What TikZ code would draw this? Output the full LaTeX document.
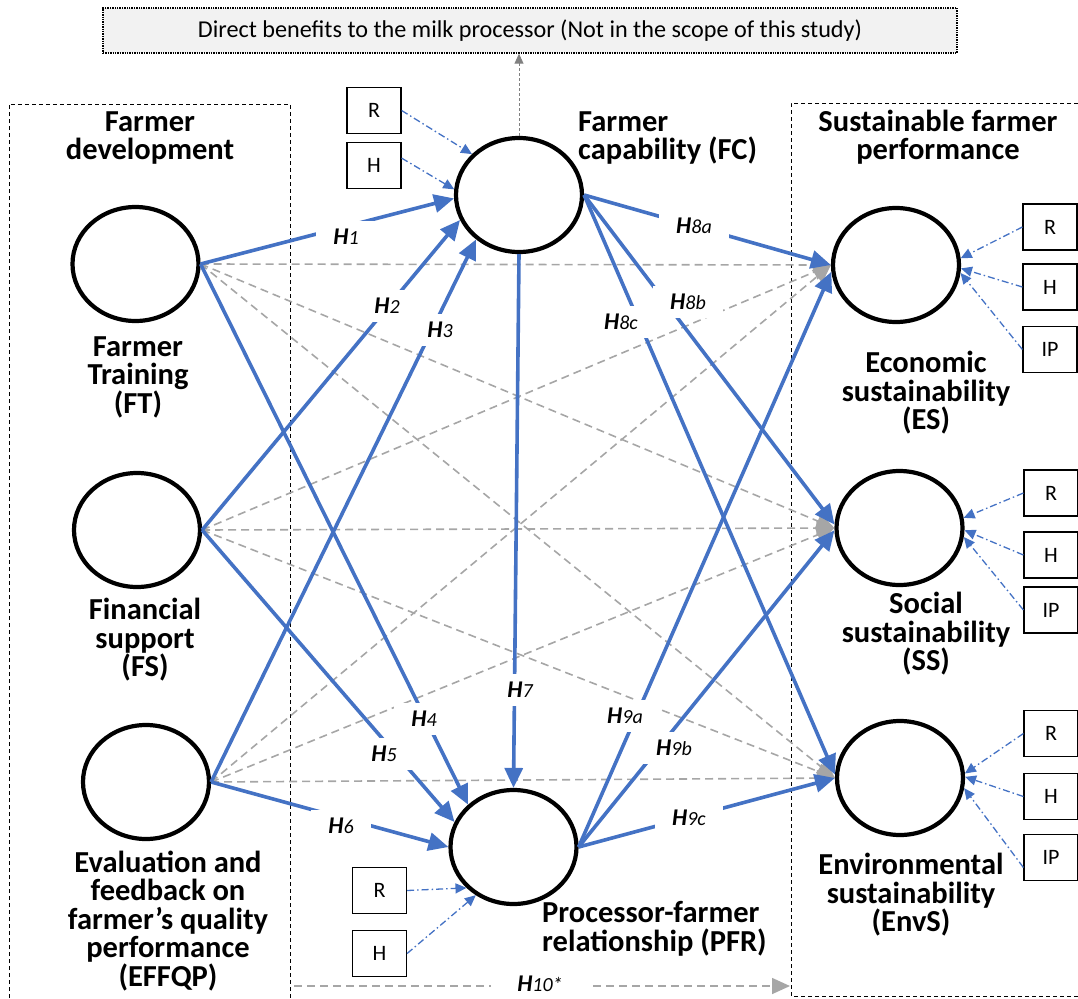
\documentclass[tikz,border=0pt]{standalone}
\usepackage{fontspec}
\setmainfont{Carlito}
\usetikzlibrary{shapes.geometric,arrows.meta}
\definecolor{lnkblue}{HTML}{4472C4}
\definecolor{dashgray}{HTML}{A6A6A6}
\definecolor{boxfill}{HTML}{F2F2F2}
\definecolor{upgray}{HTML}{808080}
% hypothesis label: bold italic H followed by an italic index
\newcommand{\hlabel}[1]{{\fontsize{24}{24}\selectfont\bfseries\itshape H}{\fontsize{20}{20}\selectfont\itshape #1}}

\begin{document}
\begin{tikzpicture}[x=1pt,y=-1pt,
  construct/.style={ellipse, draw, line width=4.2pt, minimum width=126pt, minimum height=114pt, inner sep=0pt},
  heading/.style={font=\fontsize{30.5}{28.5}\selectfont\bfseries, align=center, inner sep=0pt},
  indic/.style={draw, line width=1.2pt, minimum width=54pt, minimum height=46pt, inner sep=0pt, font=\fontsize{22}{22}\selectfont},
  hyp/.style={fill=white, inner xsep=17pt, inner ysep=8pt},
  effect/.style={draw=lnkblue, line width=3.6pt, -{Triangle[length=20pt,width=18pt]}},
  ghost/.style={draw=dashgray, line width=1.6pt, dash pattern=on 8pt off 5pt, -{Triangle[length=18pt,width=16pt]}},
  measure/.style={draw=lnkblue, line width=1.3pt, dash pattern=on 7pt off 3pt on 1.5pt off 3pt, -{Triangle[length=11pt,width=10pt]}},
  frame/.style={line width=0.9pt, dash pattern=on 4pt off 3pt}
]
\useasboundingbox (0,0) rectangle (1078,998);

% group frames
\draw[frame] (9,998) -- (9,104) -- (290,104) -- (290,998);
\draw[frame] (1078,103) -- (791,103) -- (791,996) -- (1078,996);

% out-of-scope box
\node[draw, densely dotted, line width=1.4pt, fill=boxfill, minimum width=854pt, minimum height=45pt, inner sep=0pt, font=\fontsize{24.2}{24}\selectfont] (benefit) at (530,30.5) {Direct benefits to the milk processor (Not in the scope of this study)};

% constructs
\node[construct] (FT) at (135.5,264) {};
\node[construct] (FS) at (137,530) {};
\node[construct] (EF) at (146,782) {};
\node[construct] (FC) at (519,195) {};
\node[construct] (PFR) at (513.5,847) {};
\node[construct] (ES) at (896,265) {};
\node[construct] (SS) at (899.5,528) {};
\node[construct] (EnvS) at (900,778) {};

% headings and construct names
\node[heading] (hdev) at (150,138) {Farmer\\development};
\node[heading] (hsfp) at (938,137) {Sustainable farmer\\performance};
\node[heading, anchor=west, align=left] (nFC) at (578,138) {Farmer\\capability (FC)};
\node[heading] (nFT) at (138,377) {Farmer\\Training\\(FT)};
\node[heading] (nFS) at (145,640) {Financial\\support\\(FS)};
\node[heading] (nEF) at (168,921) {Evaluation and\\feedback on\\farmer’s quality\\performance\\(EFFQP)};
\node[heading, anchor=west, align=left] (nPFR) at (542,929) {Processor-farmer\\relationship (PFR)};
\node[heading] (nES) at (926,393) {Economic\\sustainability\\(ES)};
\node[heading] (nSS) at (926,634) {Social\\sustainability\\(SS)};
\node[heading] (nEnvS) at (911,895) {Environmental\\sustainability\\(EnvS)};

% indicator boxes
\node[indic] (Rt) at (374,110.5) {R};
\node[indic] (Ht) at (374,165.5) {H};
\node[indic] (Rb) at (379.5,890.5) {R};
\node[indic] (Hb) at (379.5,953.5) {H};
\node[indic] (Re) at (1050,227) {R};
\node[indic] (He) at (1050,287) {H};
\node[indic] (Ie) at (1050,349.5) {IP};
\node[indic] (Rs) at (1051,493) {R};
\node[indic] (Hs) at (1051,555) {H};
\node[indic] (Is) at (1051,610) {IP};
\node[indic] (Rv) at (1051,733.5) {R};
\node[indic] (Hv) at (1051,796.5) {H};
\node[indic] (Iv) at (1051,857.5) {IP};

% direct paths from farmer development to sustainable performance
\foreach \s in {FT,FS,EF}
  \foreach \t in {ES,SS,EnvS}
    \draw[ghost] (\s.east) -- (\t.west);

% link to the processor benefits
\draw[draw=upgray, line width=0.9pt, dash pattern=on 3pt off 2pt, -{Triangle[length=10pt,width=9pt]}] (FC.north) -- (FC.north |- benefit.south);

% hypothesised paths
\draw[effect] (FT.east) -- (FC.183);
\draw[effect] (FS.east) -- (FC.203);
\draw[effect] (EF.east) -- (FC.226);
\draw[effect] (FT.east) -- (PFR.137);
\draw[effect] (FS.east) -- (PFR.157);
\draw[effect] (EF.east) -- (PFR.west);
\draw[effect] (FC.south) -- (PFR.north);
\draw[effect] (FC.east) -- (ES.west);
\draw[effect] (FC.east) -- (SS.177);
\draw[effect] (FC.east) -- (EnvS.177);
\draw[effect] (PFR.east) -- (ES.186);
\draw[effect] (PFR.east) -- (SS.182);
\draw[effect] (PFR.east) -- (EnvS.west);

% indicators
\draw[measure] (Rt.east) -- (FC.139);
\draw[measure] (Ht.15) -- (FC.175);
\draw[measure] (Rb.east) -- (PFR.221);
\draw[measure] (Hb.east) -- (PFR.232);
\draw[measure] (Re.west) -- (ES.6);
\draw[measure] (He.west) -- (ES.-3);
\draw[measure] (Ie.west) -- (ES.-7);
\draw[measure] (Rs.west) -- (SS.9);
\draw[measure] (Hs.west) -- (SS.-2);
\draw[measure] (Is.west) -- (SS.-8);
\draw[measure] (Rv.west) -- (EnvS.4);
\draw[measure] (Hv.west) -- (EnvS.1);
\draw[measure] (Iv.200) -- (EnvS.-9);

% H10: overall effect
\coordinate (h10s) at (294,986);
\coordinate (h10e) at (790,986);
\draw[ghost] (h10s) -- (h10e);

% hypothesis labels
\node[hyp] (lH1) at (346,237) {\hlabel{1}};
\node[hyp] (lH2) at (387,306) {\hlabel{2}};
\node[hyp] (lH3) at (440,330) {\hlabel{3}};
\node[hyp] (lH4) at (424,719) {\hlabel{4}};
\node[hyp] (lH5) at (384,754) {\hlabel{5}};
\node[hyp] (lH6) at (341,826) {\hlabel{6}};
\node[hyp] (lH7) at (520,690) {\hlabel{7}};
\node[hyp] (lH8a) at (694,226) {\hlabel{8a}};
\node[hyp] (lH8b) at (688,302) {\hlabel{8b}};
\node[hyp] (lH8c) at (621,322) {\hlabel{8c}};
\node[hyp] (lH9a) at (625,716) {\hlabel{9a}};
\node[hyp] (lH9b) at (674,748) {\hlabel{9b}};
\node[hyp] (lH9c) at (689,818) {\hlabel{9c}};
\node[hyp, inner xsep=26pt, inner ysep=1pt] (lH10) at (540,984) {\hlabel{10*}};

\end{tikzpicture}
\end{document}
